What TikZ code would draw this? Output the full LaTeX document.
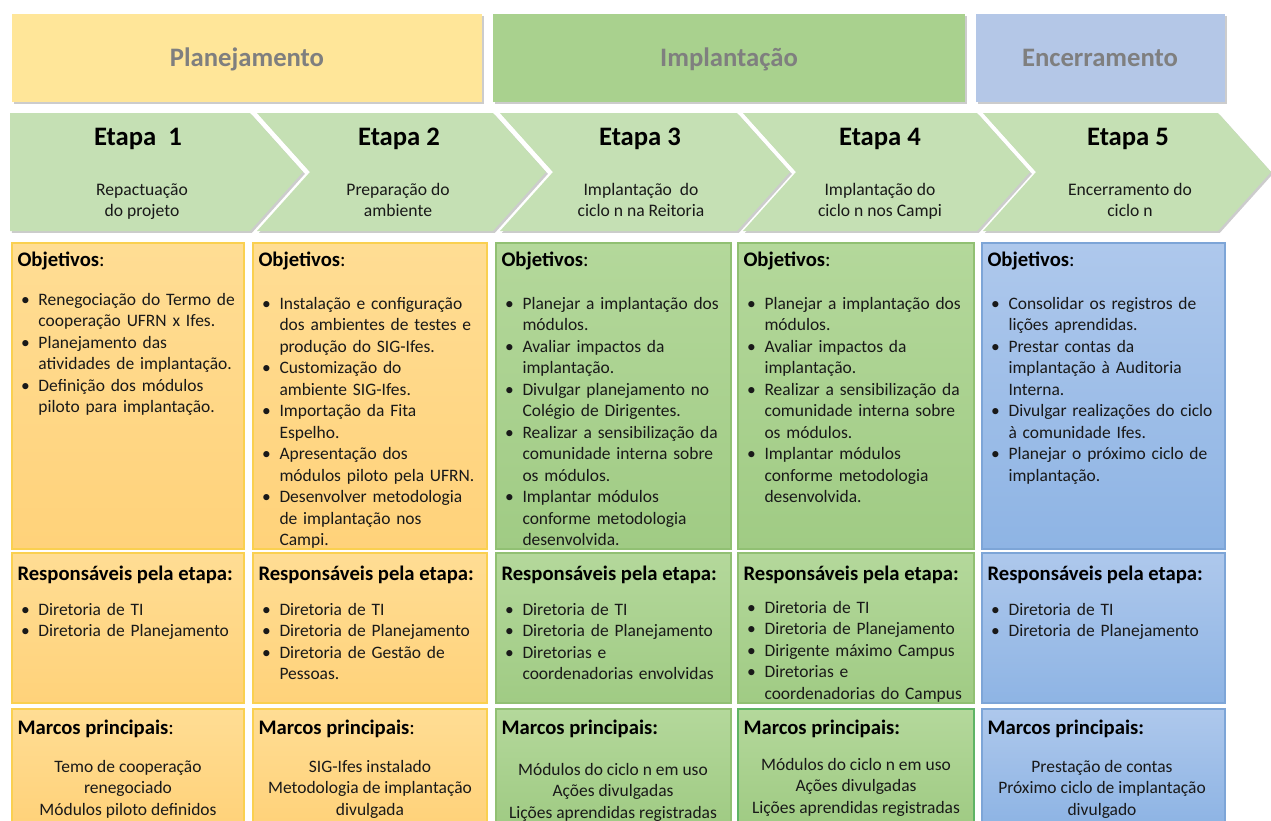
\documentclass[tikz,border=0pt]{standalone}
\usepackage{fontspec}
\setmainfont{Carlito}

\definecolor{planejamento}{RGB}{255,230,153}
\definecolor{implantacao}{RGB}{169,209,142}
\definecolor{encerramento}{RGB}{180,199,231}
\definecolor{etapaverde}{RGB}{197,224,180}
\definecolor{cinzatitulo}{RGB}{127,127,127}
\definecolor{amareloA}{RGB}{255,221,148}
\definecolor{amareloB}{RGB}{255,210,122}
\definecolor{amareloborda}{RGB}{250,208,80}
\definecolor{verdeA}{RGB}{180,216,155}
\definecolor{verdeB}{RGB}{160,203,132}
\definecolor{verdeborda}{RGB}{145,192,115}
\definecolor{verdeforte}{RGB}{95,180,100}
\definecolor{azulA}{RGB}{174,200,236}
\definecolor{azulB}{RGB}{142,180,228}
\definecolor{azulborda}{RGB}{125,165,215}
\definecolor{texto}{RGB}{25,25,25}

% lista com marcador
\newenvironment{itens}{%
  \list{\textbullet}{%
    \setlength\leftmargin{15.75pt}\setlength\labelwidth{13pt}%
    \setlength\labelsep{0pt}\setlength\itemsep{0pt}\setlength\parsep{0pt}%
    \setlength\topsep{0pt}\setlength\partopsep{0pt}%
    \def\makelabel##1{##1\hfil}}}%
  {\endlist}

\tikzset{every picture/.style={line width=0.75pt}}
\tikzset{
  sombra/.style={preaction={fill=black, fill opacity=0.2, transform canvas={xshift=1.4pt, yshift=-1.4pt}}},
  etapa/.style={fill=etapaverde, draw=none, sombra},
  celamarela/.style={draw=amareloborda, line width=1.1pt, top color=amareloA, bottom color=amareloB},
  celverde/.style={draw=verdeborda, line width=1.1pt, top color=verdeA, bottom color=verdeB},
  celazul/.style={draw=azulborda, line width=1.1pt, top color=azulA, bottom color=azulB},
  nomefase/.style={font=\fontsize{20}{24}\selectfont\bfseries, text=cinzatitulo, inner sep=0pt, anchor=base},
  numetapa/.style={font=\fontsize{20}{24}\selectfont\bfseries, inner sep=0pt, anchor=base},
  descetapa/.style={font=\fontsize{13.2}{15.75}\selectfont, text=texto, align=center, inner sep=0pt, anchor=base},
  titulo/.style={font=\fontsize{15.5}{18}\selectfont\bfseries, inner sep=0pt, anchor=base west},
  lista/.style={font=\fontsize{13.1}{16.1}\selectfont, text=texto, text width=175pt, align=left, inner sep=0pt, anchor=base west},
  marcos/.style={font=\fontsize{13.1}{16.1}\selectfont, text=texto, align=center, inner sep=0pt, anchor=base},
}

\begin{document}
\begin{tikzpicture}[x=0.75pt,y=0.75pt,yscale=-1,xscale=1]
\useasboundingbox (0,0) rectangle (1271,821);

%Shape: Rectangle (fases)
\draw [fill=planejamento, draw=none, sombra] (12,14) -- (482,14) -- (482,102) -- (12,102) -- cycle ;
\draw [fill=implantacao, draw=none, sombra] (493,14) -- (965,14) -- (965,102) -- (493,102) -- cycle ;
\draw [fill=encerramento, draw=none, sombra] (976,14) -- (1225,14) -- (1225,102) -- (976,102) -- cycle ;

\node [nomefase] (fasePlan) at (247,66) {Planejamento};
\node [nomefase] (faseImpl) at (729,66) {Implantação};
\node [nomefase] (faseEnc) at (1100,66) {Encerramento};

%Shape: Chevron
\draw [etapa] (10,113) -- (250,113) -- (303,172) -- (250,231) -- (10,231) -- cycle ;
\draw [etapa] (257,113) -- (493,113) -- (546,172) -- (493,231) -- (257,231) -- (310,172) -- cycle ;
\draw [etapa] (500,113) -- (737,113) -- (790,172) -- (737,231) -- (500,231) -- (553,172) -- cycle ;
\draw [etapa] (743,113) -- (977,113) -- (1030,172) -- (977,231) -- (743,231) -- (796,172) -- cycle ;
\draw [etapa] (983,113) -- (1218,113) -- (1271,172) -- (1218,231) -- (983,231) -- (1036,172) -- cycle ;

\node [numetapa] (etapa1) at (138,145) {Etapa\ \ 1};
\node [numetapa] (etapa2) at (399,145) {Etapa 2};
\node [numetapa] (etapa3) at (640,145) {Etapa 3};
\node [numetapa] (etapa4) at (880,145) {Etapa 4};
\node [numetapa] (etapa5) at (1128,145) {Etapa 5};

% base = ultima linha
\node [descetapa] (desc1) at (142,216) {Repactuação\\do projeto};
\node [descetapa] (desc2) at (398,216) {Preparação do\\ambiente};
\node [descetapa] (desc3) at (641,216) {Implantação\ \ do\\ciclo n na Reitoria};
\node [descetapa] (desc4) at (880,216) {Implantação do\\ciclo n nos Campi};
\node [descetapa] (desc5) at (1130,216) {Encerramento do\\ciclo n};

%Shape: Rectangle (objetivos)
\draw [celamarela] (12,243) -- (244,243) -- (244,549) -- (12,549) -- cycle ;
\draw [celamarela] (253,243) -- (487,243) -- (487,549) -- (253,549) -- cycle ;
\draw [celverde] (496,243) -- (731,243) -- (731,549) -- (496,549) -- cycle ;
\draw [celverde] (738,243) -- (974,243) -- (974,549) -- (738,549) -- cycle ;
\draw [celazul] (982,243) -- (1225,243) -- (1225,549) -- (982,549) -- cycle ;

%Shape: Rectangle (responsaveis)
\draw [celamarela] (12,553) -- (244,553) -- (244,703) -- (12,703) -- cycle ;
\draw [celamarela] (253,553) -- (487,553) -- (487,703) -- (253,703) -- cycle ;
\draw [celverde] (496,553) -- (731,553) -- (731,703) -- (496,703) -- cycle ;
\draw [celverde] (738,553) -- (974,553) -- (974,703) -- (738,703) -- cycle ;
\draw [celazul] (982,553) -- (1225,553) -- (1225,703) -- (982,703) -- cycle ;

%Shape: Rectangle (marcos)
\draw [celamarela] (12,709) -- (244,709) -- (244,823) -- (12,823) -- cycle ;
\draw [celamarela] (253,709) -- (487,709) -- (487,823) -- (253,823) -- cycle ;
\draw [celverde] (496,709) -- (731,709) -- (731,823) -- (496,823) -- cycle ;
\draw [celverde, draw=verdeforte] (738,709) -- (974,709) -- (974,823) -- (738,823) -- cycle ;
\draw [celazul] (982,709) -- (1225,709) -- (1225,823) -- (982,823) -- cycle ;

% Objetivos
\node [titulo] (objTit1) at (17,266) {Objetivos{\mdseries :}};
\node [titulo] (objTit2) at (258,266) {Objetivos{\mdseries :}};
\node [titulo] (objTit3) at (501,266) {Objetivos{\mdseries :}};
\node [titulo] (objTit4) at (743,266) {Objetivos{\mdseries :}};
\node [titulo] (objTit5) at (987,266) {Objetivos{\mdseries :}};

% a lista comeca uma linha abaixo da base do no
\node [lista] (obj1) at (17,284) {\begin{itens}
  \item Renegociação do Termo de\newline cooperação UFRN x Ifes.
  \item Planejamento das\newline atividades de implantação.
  \item Definição dos módulos\newline piloto para implantação.
\end{itens}};
\node [lista] (obj2) at (258,288) {\begin{itens}
  \item Instalação e configuração\newline dos ambientes de testes e\newline produção do SIG-Ifes.
  \item Customização do\newline ambiente SIG-Ifes.
  \item Importação da Fita\newline Espelho.
  \item Apresentação dos\newline módulos piloto pela UFRN.
  \item Desenvolver metodologia\newline de implantação nos\newline Campi.
\end{itens}};
\node [lista] (obj3) at (501,288) {\begin{itens}
  \item Planejar a implantação dos\newline módulos.
  \item Avaliar impactos da\newline implantação.
  \item Divulgar planejamento no\newline Colégio de Dirigentes.
  \item Realizar a sensibilização da\newline comunidade interna sobre\newline os módulos.
  \item Implantar módulos\newline conforme metodologia\newline desenvolvida.
\end{itens}};
\node [lista] (obj4) at (743,288) {\begin{itens}
  \item Planejar a implantação dos\newline módulos.
  \item Avaliar impactos da\newline implantação.
  \item Realizar a sensibilização da\newline comunidade interna sobre\newline os módulos.
  \item Implantar módulos\newline conforme metodologia\newline desenvolvida.
\end{itens}};
\node [lista] (obj5) at (987,288) {\begin{itens}
  \item Consolidar os registros de\newline lições aprendidas.
  \item Prestar contas da\newline implantação à Auditoria\newline Interna.
  \item Divulgar realizações do ciclo\newline à comunidade Ifes.
  \item Planejar o próximo ciclo de\newline implantação.
\end{itens}};

% Responsaveis
\node [titulo] (respTit1) at (17,580) {Responsáveis pela etapa:};
\node [titulo] (respTit2) at (258,580) {Responsáveis pela etapa:};
\node [titulo] (respTit3) at (501,580) {Responsáveis pela etapa:};
\node [titulo] (respTit4) at (743,580) {Responsáveis pela etapa:};
\node [titulo] (respTit5) at (987,580) {Responsáveis pela etapa:};

\node [lista] (resp1) at (17,594) {\begin{itens}
  \item Diretoria de TI
  \item Diretoria de Planejamento
\end{itens}};
\node [lista] (resp2) at (258,594) {\begin{itens}
  \item Diretoria de TI
  \item Diretoria de Planejamento
  \item Diretoria de Gestão de\newline Pessoas.
\end{itens}};
\node [lista] (resp3) at (501,594) {\begin{itens}
  \item Diretoria de TI
  \item Diretoria de Planejamento
  \item Diretorias e\newline coordenadorias envolvidas
\end{itens}};
\node [lista] (resp4) at (743,592) {\begin{itens}
  \item Diretoria de TI
  \item Diretoria de Planejamento
  \item Dirigente máximo Campus
  \item Diretorias e\newline coordenadorias do Campus
\end{itens}};
\node [lista] (resp5) at (987,594) {\begin{itens}
  \item Diretoria de TI
  \item Diretoria de Planejamento
\end{itens}};

% Marcos principais
\node [titulo] (marcoTit1) at (17,734) {Marcos principais{\mdseries :}};
\node [titulo] (marcoTit2) at (258,734) {Marcos principais{\mdseries :}};
\node [titulo] (marcoTit3) at (501,734) {Marcos principais:};
\node [titulo] (marcoTit4) at (743,734) {Marcos principais:};
\node [titulo] (marcoTit5) at (987,734) {Marcos principais:};

% base = ultima linha
\node [marcos] (marco1) at (128,815) {Temo de cooperação\\renegociado\\Módulos piloto definidos};
\node [marcos] (marco2) at (370,815) {SIG-Ifes instalado\\Metodologia de implantação\\divulgada};
\node [marcos] (marco3) at (613,818) {Módulos do ciclo n em uso\\Ações divulgadas\\Lições aprendidas registradas};
\node [marcos] (marco4) at (856,813) {Módulos do ciclo n em uso\\Ações divulgadas\\Lições aprendidas registradas};
\node [marcos] (marco5) at (1102,815) {Prestação de contas\\Próximo ciclo de implantação\\divulgado};

\end{tikzpicture}
\end{document}
